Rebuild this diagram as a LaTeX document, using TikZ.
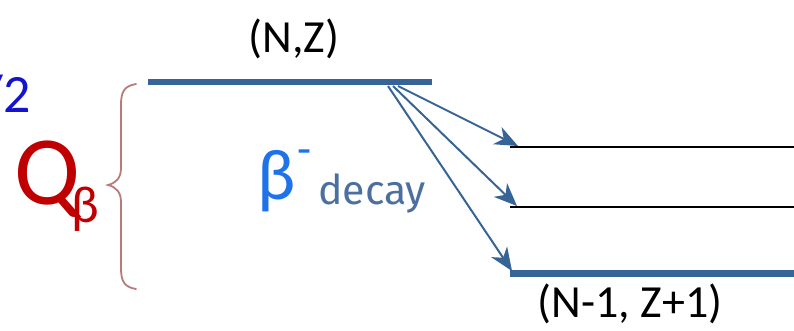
\documentclass[tikz,border=0pt]{standalone}
\usepackage{fontspec}
\setmainfont{Carlito}
\newfontfamily\decayfont{Fira Sans}
\usetikzlibrary{arrows.meta}
\definecolor{levelblue}{RGB}{55,100,150}
\definecolor{betablue}{RGB}{30,115,235}
\definecolor{decayblue}{RGB}{75,112,160}
\definecolor{qred}{RGB}{192,0,0}
\definecolor{bracecol}{RGB}{185,122,122}
\definecolor{halfblue}{RGB}{20,20,205}
\tikzset{
  thicklevel/.style={draw=levelblue,line width=6pt},
  thinlevel/.style={draw=black,line width=1.8pt},
  decayarrow/.style={draw=levelblue,line width=2pt,-{Stealth[length=23pt,width=19pt,inset=7pt]}},
  lbl/.style={inner sep=0pt,font=\fontsize{46}{48}\selectfont}
}
\begin{document}
\begin{tikzpicture}[x=1pt,y=-1pt]
\useasboundingbox (0,0) rectangle (794,330);
\clip (0,0) rectangle (794,330);
% levels
\coordinate (p0a) at (148,82);
\coordinate (p0b) at (432,82);
\draw[thicklevel] (p0a) -- (p0b);
\coordinate (l1a) at (510,147);
\coordinate (l1b) at (794,147);
\draw[thinlevel] (l1a) -- (l1b);
\coordinate (l2a) at (510,207);
\coordinate (l2b) at (794,207);
\draw[thinlevel] (l2a) -- (l2b);
\coordinate (l3a) at (510,273);
\coordinate (l3b) at (794,273);
\draw[thicklevel,line width=7pt] (l3a) -- (l3b);
% labels
\node[lbl] (nz) at (294,39) {(N,Z)};
\node[lbl] (daughter) at (630,304) {(N-1, Z+1)};
% arrows
\coordinate (s1) at (398,86);
\coordinate (s2) at (393,86);
\coordinate (s3) at (388,86);
\coordinate (e1) at (518,146);
\coordinate (e2) at (517,206);
\coordinate (e3) at (512,271);
\draw[decayarrow] (s1) -- (e1);
\draw[decayarrow] (s2) -- (e2);
\draw[decayarrow] (s3) -- (e3);
% beta decay label
\node[inner sep=0pt,text=betablue,font=\fontsize{72}{74}\selectfont] (beta) at (277,181) {β};
\node[inner sep=0pt,text=betablue,font=\fontsize{46}{46}\selectfont] (minus) at (305,157) {-};
\node[inner sep=0pt,text=decayblue,font=\decayfont\fontsize{41}{44}\selectfont,anchor=base west] (decay) at (318,204) {decay};
% Q beta
\node[inner sep=0pt,text=qred,font=\fontsize{98}{100}\selectfont,anchor=base] (Q) at (47,204) {Q};
\node[inner sep=0pt,text=qred,font=\fontsize{52}{54}\selectfont,anchor=base west] (qb) at (71,222) {β};
% brace
\draw[bracecol,line width=1.8pt,line cap=round]
  (136,84) .. controls (124,86) and (121,92) .. (121,105)
  -- (121,168) .. controls (121,178) and (116,183) .. (108,185)
  .. controls (116,187) and (121,192) .. (121,202)
  -- (121,268) .. controls (121,281) and (124,287) .. (136,289);
% cut-off T1/2 fragment
\node[inner sep=0pt,text=halfblue,font=\fontsize{54}{56}\selectfont,anchor=east] (half) at (31,95) {/2};
\end{tikzpicture}
\end{document}
